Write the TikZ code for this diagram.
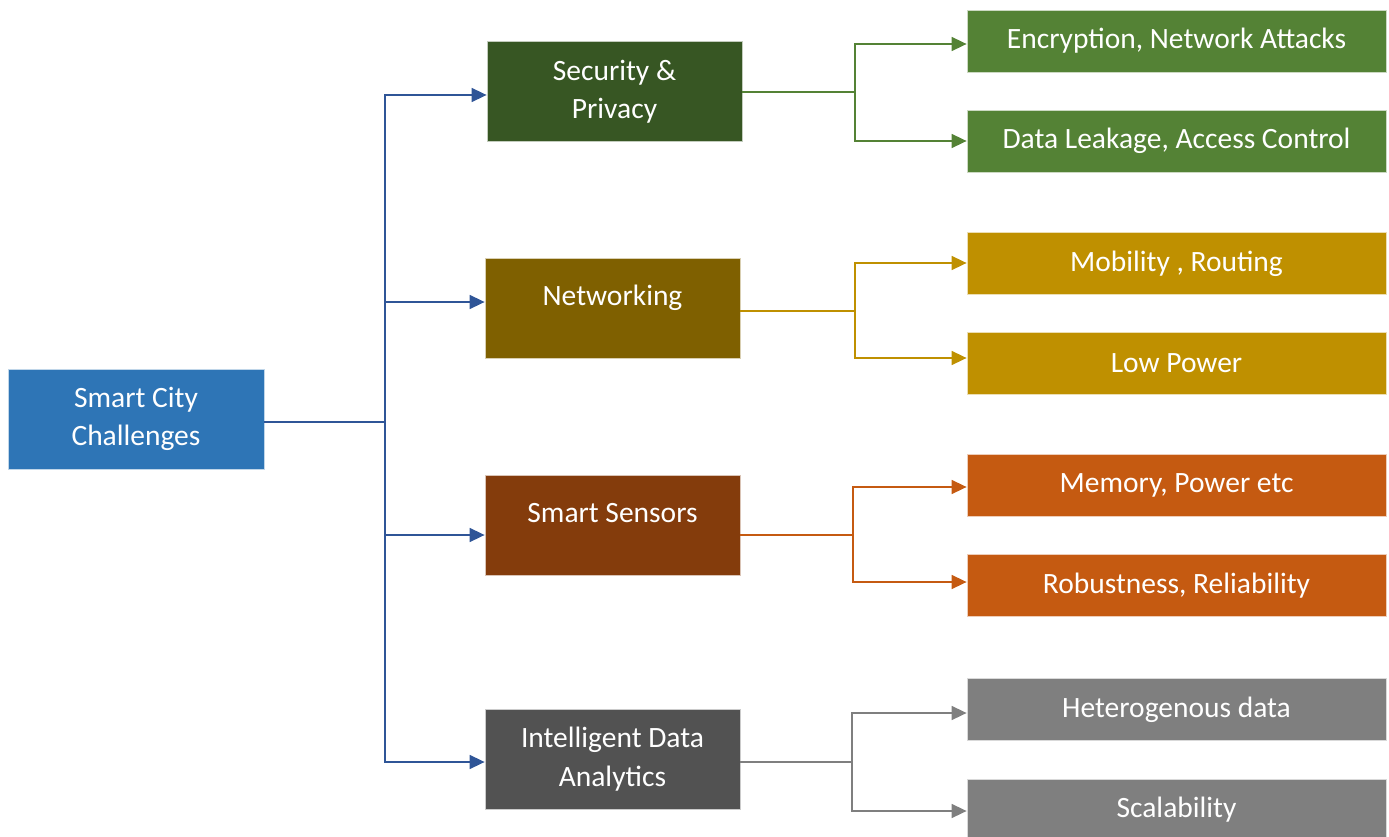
\documentclass[tikz,border=0pt]{standalone}
\usepackage{fontspec}
\setmainfont{Carlito}
\usetikzlibrary{arrows.meta}
\definecolor{rootblue}{HTML}{2E75B6}
\definecolor{linkblue}{HTML}{2F5597}
\definecolor{secdark}{HTML}{375623}
\definecolor{secleaf}{HTML}{548235}
\definecolor{netdark}{HTML}{7F6000}
\definecolor{netleaf}{HTML}{BF9000}
\definecolor{sendark}{HTML}{843C0C}
\definecolor{senleaf}{HTML}{C55A11}
\definecolor{anadark}{HTML}{525252}
\definecolor{analeaf}{HTML}{7F7F7F}
\tikzset{
  box/.style={rectangle, inner sep=0pt, text=white, align=center,
    font=\fontsize{29.5}{38.5}\selectfont, draw=white!70!#1, line width=0.8pt, fill=#1},
  midbox/.style={box=#1, minimum width=255pt, minimum height=100pt},
  raised/.style={text height=20pt, text depth=26pt},
  leafbox/.style={box=#1, minimum width=419pt, minimum height=62pt},
  link/.style={draw=#1, line width=1.6pt, -{Triangle[length=15pt,width=14pt]}},
  plain/.style={draw=#1, line width=1.6pt},
}
\begin{document}
\begin{tikzpicture}[x=1pt, y=-1pt]
\useasboundingbox (0,0) rectangle (1389,837);
\begin{scope}
\clip (0,0) rectangle (1389,837);

% root
\node[box=rootblue, minimum width=256pt, minimum height=100pt] (root) at (136,419) {Smart City\\Challenges};

% second level
\node[midbox=secdark] (sec) at (614.5,91.5) {Security \&\\Privacy};
\node[midbox=netdark, raised] (net) at (612.5,308) {Networking};
\node[midbox=sendark, raised] (sen) at (612.5,525) {Smart Sensors};
\node[midbox=anadark] (ana) at (612.5,759) {Intelligent Data\\Analytics};

% leaves
\node[leafbox=secleaf] (enc) at (1176.5,41) {Encryption, Network Attacks};
\node[leafbox=secleaf] (leak) at (1176.5,141) {Data Leakage, Access Control};
\node[leafbox=netleaf] (mob) at (1176.5,263.5) {Mobility , Routing};
\node[leafbox=netleaf] (low) at (1176.5,363.5) {Low Power};
\node[leafbox=senleaf] (mem) at (1176.5,485.5) {Memory, Power etc};
\node[leafbox=senleaf] (rob) at (1176.5,585.5) {Robustness, Reliability};
\node[leafbox=analeaf] (het) at (1176.5,709.5) {Heterogenous data};
\node[leafbox=analeaf] (sca) at (1176.5,810) {Scalability};

% junction points
\coordinate (j0) at (385,422);
\coordinate (j1) at (855,92);
\coordinate (j2) at (855,311);
\coordinate (j3) at (853,535);
\coordinate (j4) at (852,762);

% root to second level
\draw[plain=linkblue, line width=2pt] (root.east |- j0) -- (j0);
\draw[link=linkblue] (j0) |- (sec.west |- 0,95);
\draw[link=linkblue] (j0) |- (net.west |- 0,302);
\draw[link=linkblue] (j0) |- (sen.west |- 0,535);
\draw[link=linkblue] (j0) |- (ana.west |- 0,762);

% security branch
\draw[plain=secleaf] (sec.east |- j1) -- (j1);
\draw[link=secleaf] (j1) |- (enc.west |- 0,44);
\draw[link=secleaf] (j1) |- (leak.west |- 0,141);

% networking branch
\draw[plain=netleaf] (net.east |- j2) -- (j2);
\draw[link=netleaf] (j2) |- (mob.west |- 0,263);
\draw[link=netleaf] (j2) |- (low.west |- 0,358);

% sensors branch
\draw[plain=senleaf] (sen.east |- j3) -- (j3);
\draw[link=senleaf] (j3) |- (mem.west |- 0,487);
\draw[link=senleaf] (j3) |- (rob.west |- 0,582);

% analytics branch
\draw[plain=analeaf] (ana.east |- j4) -- (j4);
\draw[link=analeaf] (j4) |- (het.west |- 0,713);
\draw[link=analeaf] (j4) |- (sca.west |- 0,811);
\end{scope}
\end{tikzpicture}
\end{document}
